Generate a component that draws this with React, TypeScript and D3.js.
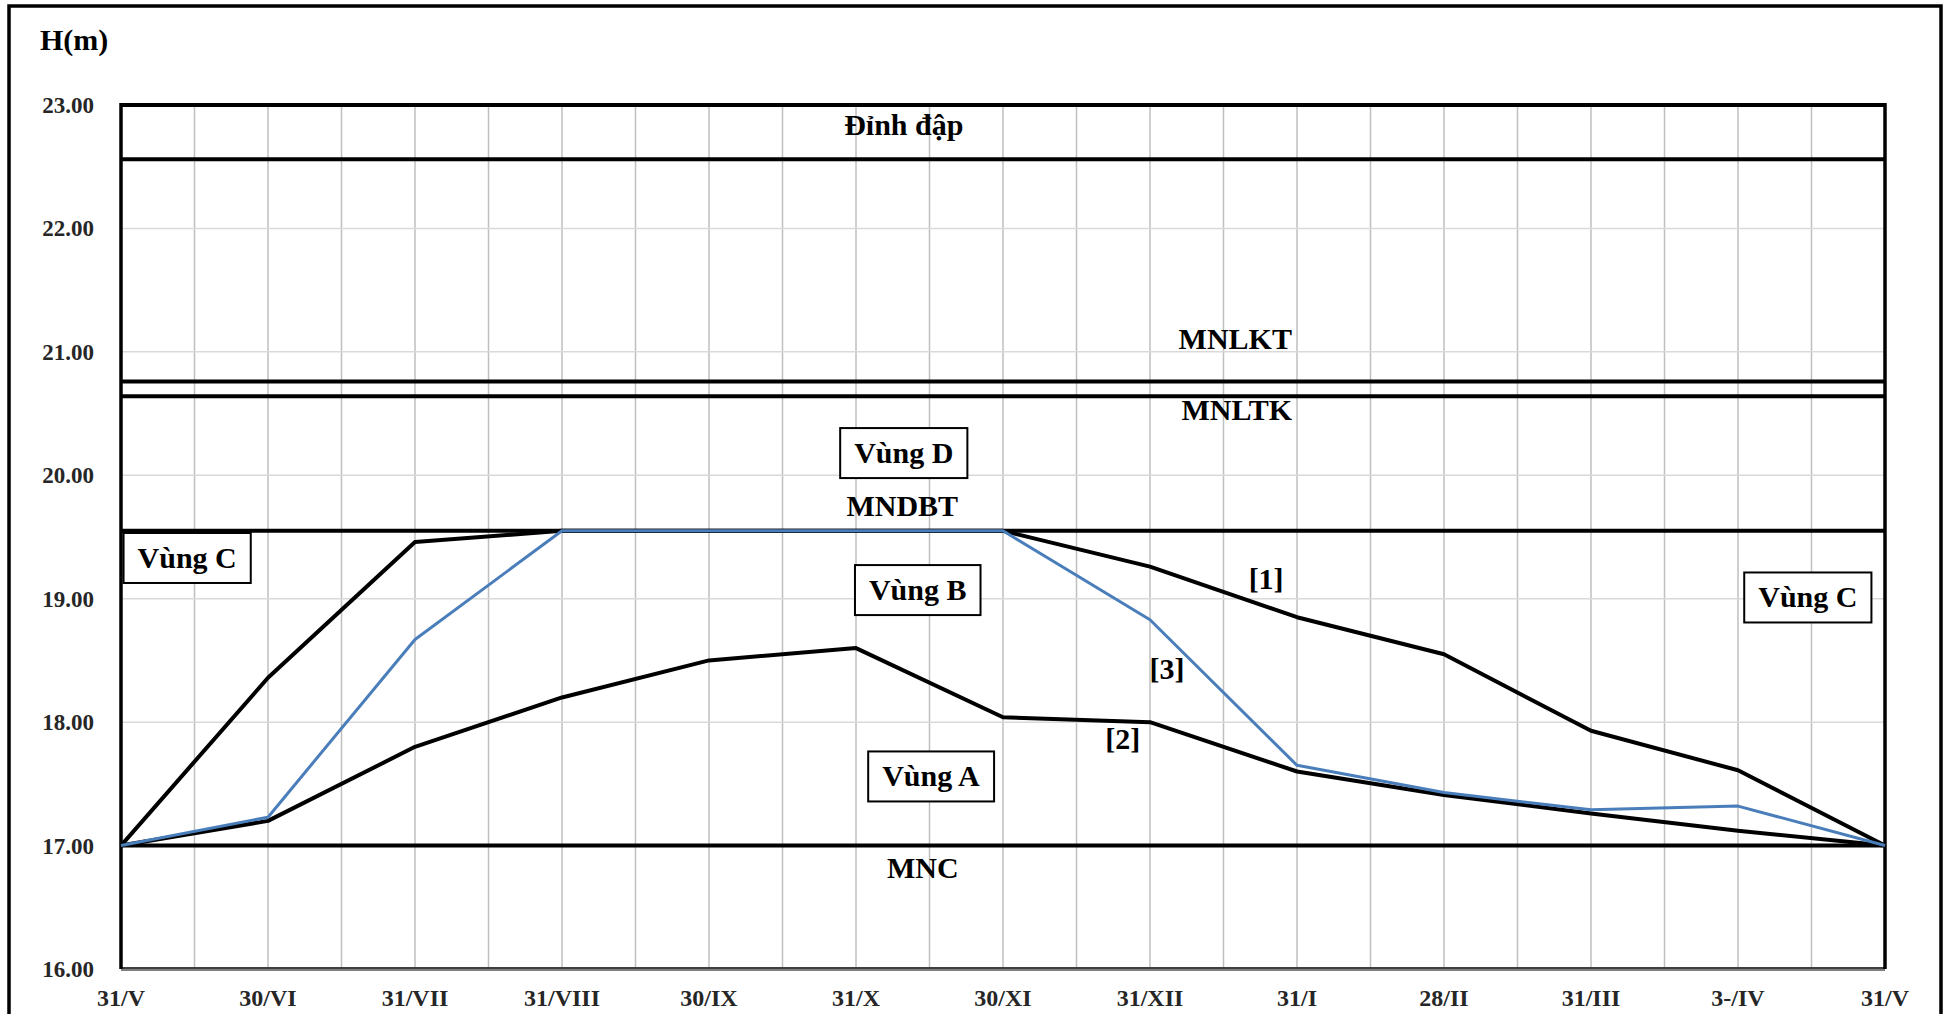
import { useEffect, useRef } from "react";
import * as d3 from "d3";

// month-end labels on the time axis (every second half-month step)
const monthLabels = ["31/V", "30/VI", "31/VII", "31/VIII", "30/IX", "31/X", "30/XI", "31/XII", "31/I", "28/II", "31/III", "3-/IV", "31/V"];
const yTicks = [16, 17, 18, 19, 20, 21, 22, 23];

// water level curves, one value per month label
const curve1 = [17.0, 18.36, 19.46, 19.55, 19.55, 19.55, 19.55, 19.26, 18.85, 18.55, 17.93, 17.61, 17.0];
const curve2 = [17.0, 17.2, 17.8, 18.2, 18.5, 18.6, 18.04, 18.0, 17.6, 17.41, 17.26, 17.12, 17.0];
const curve3 = [17.0, 17.23, 18.67, 19.55, 19.55, 19.55, 19.55, 18.83, 17.65, 17.43, 17.29, 17.32, 17.0];

// characteristic reservoir levels
const levelNames = ["Đỉnh đập", "MNLKT", "MNLTK", "MNDBT", "MNC"];
const levelValues = [22.56, 20.76, 20.64, 19.55, 17.0];

// text annotations: [text, half-month position, level, boxed]
const notes: [string, number, number, boolean][] = [
  [levelNames[0], 10.65, 22.84, false],
  [levelNames[1], 15.16, 21.1, false],
  [levelNames[2], 15.18, 20.53, false],
  ["Vùng D", 10.65, 20.18, true],
  [levelNames[3], 10.63, 19.75, false],
  ["Vùng B", 10.84, 19.07, true],
  ["[1]", 15.58, 19.16, false],
  ["Vùng C", 0.9, 19.33, true],
  ["Vùng C", 22.95, 19.01, true],
  ["[3]", 14.23, 18.43, false],
  ["[2]", 13.63, 17.86, false],
  ["Vùng A", 11.02, 17.56, true],
  [levelNames[4], 10.91, 16.82, false],
];

const W = 1946, H = 1014;
const M = { left: 121, right: 61, top: 105, bottom: 45 };
const FONT = "'Liberation Serif','Times New Roman',serif";

export default function App() {
  const svgRef = useRef<SVGSVGElement>(null);

  useEffect(() => {
    if (!svgRef.current) return;
    const svg = d3.select(svgRef.current);
    svg.selectAll("*").remove();

    const x = d3.scaleLinear().domain([0, 24]).range([M.left, W - M.right]);
    const y = d3.scaleLinear().domain([16, 23]).range([H - M.bottom, M.top]);

    svg.append("rect").attr("width", W).attr("height", H).attr("fill", "#fff");
    svg.append("rect").attr("x", 9).attr("y", 6).attr("width", 1932).attr("height", 1020)
      .attr("fill", "none").attr("stroke", "#000").attr("stroke-width", 3.5);

    // grid
    svg.append("g").selectAll("line").data(d3.range(1, 24)).join("line")
      .attr("x1", d => x(d)).attr("x2", d => x(d)).attr("y1", y(23)).attr("y2", y(16))
      .attr("stroke", "#bfbfbf").attr("stroke-width", 1.5);
    svg.append("g").selectAll("line").data(yTicks.filter(d => d > 16 && d < 23)).join("line")
      .attr("x1", x(0)).attr("x2", x(24)).attr("y1", d => y(d)).attr("y2", d => y(d))
      .attr("stroke", "#d9d9d9").attr("stroke-width", 1.5);

    // frame of plot
    svg.append("line").attr("x1", x(0)).attr("x2", x(24)).attr("y1", y(16)).attr("y2", y(16))
      .attr("stroke", "#7f7f7f").attr("stroke-width", 4);
    svg.append("line").attr("x1", x(0)).attr("x2", x(24)).attr("y1", y(16) - 1).attr("y2", y(16) - 1)
      .attr("stroke", "#000").attr("stroke-width", 1);
    svg.append("line").attr("x1", x(0)).attr("x2", x(24)).attr("y1", y(23)).attr("y2", y(23))
      .attr("stroke", "#000").attr("stroke-width", 4);
    [0, 24].forEach(v => svg.append("line").attr("x1", x(v)).attr("x2", x(v)).attr("y1", y(23) - 2).attr("y2", y(16))
      .attr("stroke", "#000").attr("stroke-width", 3.5));

    // level lines
    svg.append("g").selectAll("line").data(levelValues).join("line")
      .attr("x1", x(0)).attr("x2", x(24)).attr("y1", d => y(d)).attr("y2", d => y(d))
      .attr("stroke", "#000").attr("stroke-width", 4);

    // axes labels
    svg.append("g").selectAll("text").data(yTicks).join("text")
      .attr("x", 94).attr("y", d => y(d)).attr("dy", "0.35em").attr("text-anchor", "end")
      .attr("font-family", FONT).attr("font-size", 23).attr("font-weight", 700).attr("fill", "#262626")
      .text(d => d.toFixed(2));
    svg.append("g").selectAll("text").data(monthLabels).join("text")
      .attr("x", (_, i) => x(i * 2)).attr("y", 1006).attr("text-anchor", "middle")
      .attr("font-family", FONT).attr("font-size", 24).attr("font-weight", 700).attr("fill", "#262626")
      .text(d => d);
    svg.append("text").attr("x", 40).attr("y", 50).attr("font-family", FONT).attr("font-size", 30)
      .attr("font-weight", 700).attr("fill", "#000").text("H(m)");

    // curves
    const line = d3.line<number>().x((_, i) => x(i * 2)).y(d => y(d));
    [[curve2, "#000", 4], [curve1, "#000", 4], [curve3, "#4a7ebb", 3]].forEach(([vals, col, w]) =>
      svg.append("path").attr("d", line(vals as number[])).attr("fill", "none")
        .attr("stroke", col as string).attr("stroke-width", w as number).attr("stroke-linejoin", "round"));

    // annotations
    notes.forEach(([t, px, py, boxed]) => {
      const g = svg.append("g");
      const txt = g.append("text").attr("x", x(px)).attr("y", y(py)).attr("dy", "0.33em")
        .attr("text-anchor", "middle").attr("font-family", FONT).attr("font-size", 30)
        .attr("font-weight", 700).attr("fill", "#000").text(t);
      if (boxed) {
        const b = (txt.node() as SVGTextElement).getBBox();
        g.insert("rect", "text").attr("x", b.x - 14).attr("y", y(py) - 25).attr("width", b.width + 28).attr("height", 50)
          .attr("fill", "#fff").attr("stroke", "#000").attr("stroke-width", 2);
      }
    });
  }, []);

  return <svg ref={svgRef} width={W} height={H} style={{ position: "absolute", left: 0, top: 0 }} />;
}
